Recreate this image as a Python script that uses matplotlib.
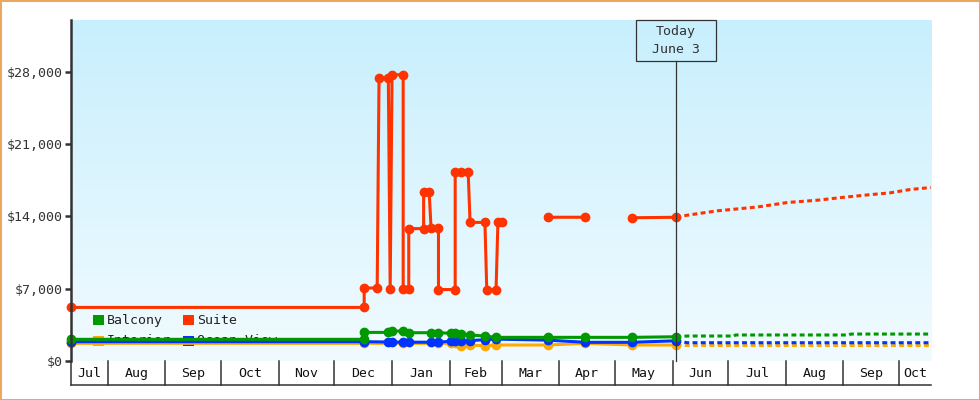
import matplotlib
matplotlib.use("Agg")
import matplotlib.pyplot as plt
import matplotlib.dates as mdates
import matplotlib.transforms as mtransforms
from matplotlib.patches import Rectangle
from matplotlib.ticker import FuncFormatter
import numpy as np
import pandas as pd

# ---------------- data ----------------
x_start = "2022-07-12"
x_end = "2023-10-18"
today = "2023-06-03"
today_label = "Today\nJune 3"
y_ticks = [0, 7000, 14000, 21000, 28000]
y_max = 33000

series_names = ["Balcony", "Suite", "Interior", "Ocean View"]

suite_dates = ["2022-07-12", "2022-12-17", "2022-12-17", "2022-12-24", "2022-12-25",
               "2022-12-30", "2022-12-31", "2023-01-01", "2023-01-07", "2023-01-07",
               "2023-01-10", "2023-01-10", "2023-01-18", "2023-01-18", "2023-01-21",
               "2023-01-22", "2023-01-26", "2023-01-26", "2023-02-04", "2023-02-04",
               "2023-02-07", "2023-02-11", "2023-02-12", "2023-02-20", "2023-02-21",
               "2023-02-26", "2023-02-27", "2023-03-01", "2023-03-10", "2023-03-26",
               "2023-04-15", "2023-04-25", "2023-05-10", "2023-06-03"]
suite_values = [5170, 5170, 7050, 7050, 27350,
                27350, 6950, 27700, 27700, 7000,
                7000, 12800, 12800, 16300, 16300,
                12900, 12900, 6900, 6900, 18250,
                18250, 18250, 13400, 13400, 6900,
                6900, 13400, 13400, None, 13900,
                13900, None, 13850, 13900]

balcony_dates = ["2022-07-12", "2022-12-17", "2022-12-17", "2022-12-30", "2023-01-01",
                 "2023-01-07", "2023-01-10", "2023-01-22", "2023-01-26", "2023-02-02",
                 "2023-02-04", "2023-02-07", "2023-02-12", "2023-02-20", "2023-02-26",
                 "2023-03-26", "2023-04-15", "2023-05-10", "2023-06-03"]
balcony_values = [2080, 2080, 2750, 2750, 2880,
                  2880, 2720, 2720, 2720, 2660,
                  2660, 2590, 2500, 2400, 2270,
                  2270, 2270, 2270, 2330]

ocean_dates = ["2022-07-12", "2022-12-17", "2022-12-30", "2023-01-01", "2023-01-07",
               "2023-01-10", "2023-01-22", "2023-01-26", "2023-02-02", "2023-02-04",
               "2023-02-07", "2023-02-12", "2023-02-20", "2023-02-26", "2023-03-26",
               "2023-04-15", "2023-05-10", "2023-06-03"]
ocean_values = [1850, 1850, 1820, 1820, 1800,
                1800, 1800, 1800, 1900, 1900,
                1900, 1950, 2050, 2100, 2000,
                1790, 1790, 1940]

interior_dates = ["2022-07-12", "2022-12-17", "2023-01-07", "2023-01-26", "2023-02-02",
                  "2023-02-04", "2023-02-07", "2023-02-12", "2023-02-20", "2023-02-26",
                  "2023-03-26", "2023-04-15", "2023-05-10", "2023-06-03"]
interior_values = [1690, 1690, 1690, 1690, 1690,
                   1690, 1460, 1520, 1460, 1530,
                   1530, 1690, 1530, 1530]

suite_fc_dates = ["2023-06-03", "2023-06-09", "2023-06-25", "2023-07-17", "2023-08-02",
                  "2023-08-18", "2023-08-31", "2023-09-12", "2023-09-26", "2023-10-07",
                  "2023-10-18"]
suite_fc_values = [13900, 14100, 14520, 14900, 15330,
                   15550, 15810, 16030, 16260, 16590,
                   16780]

balcony_fc_dates = ["2023-06-03", "2023-06-09", "2023-07-04", "2023-07-05", "2023-09-04",
                    "2023-09-05", "2023-10-18"]
balcony_fc_values = [2330, 2400, 2400, 2500, 2500, 2590, 2590]

ocean_fc_dates = ["2023-06-03", "2023-06-09", "2023-10-18"]
ocean_fc_values = [1940, 1750, 1750]

interior_fc_dates = ["2023-06-03", "2023-06-09", "2023-10-18"]
interior_fc_values = [1530, 1530, 1530]

colors = {"Balcony": "#009900", "Suite": "#ff3300",
          "Interior": "#ffaa00", "Ocean View": "#0033ff"}

# ---------------- figure ----------------
FONT = "DejaVu Sans Mono"
TXT = "#333333"
FS = 9.5
W_PX, H_PX = 980, 400
left_px, right_px, top_px, bottom_px = 70.7, 930.7, 20.0, 360.8

fig = plt.figure(figsize=(W_PX / 100, H_PX / 100), dpi=100)
pos = [left_px / W_PX, 1 - bottom_px / H_PX,
       (right_px - left_px) / W_PX, (bottom_px - top_px) / H_PX]

# gradient background
bg = fig.add_axes(pos, zorder=0)
g = np.linspace(0, 1, 256)[:, None, None]
c_top = np.array([200, 239, 253]) / 255.0
c_bot = np.array([241, 251, 255]) / 255.0
img = c_top * (1 - g) + c_bot * g
bg.imshow(img, aspect="auto", extent=[0, 1, 0, 1], origin="upper", interpolation="bilinear")
bg.set_axis_off()

ax = fig.add_axes(pos, zorder=1)
ax.patch.set_alpha(0)

def to_dt(lst):
    return pd.to_datetime(lst)

def to_vals(lst):
    return np.array([np.nan if v is None else v for v in lst], dtype=float)

solid = {
    "Interior": (interior_dates, interior_values, interior_fc_dates, interior_fc_values, 3),
    "Ocean View": (ocean_dates, ocean_values, ocean_fc_dates, ocean_fc_values, 4),
    "Balcony": (balcony_dates, balcony_values, balcony_fc_dates, balcony_fc_values, 5),
    "Suite": (suite_dates, suite_values, suite_fc_dates, suite_fc_values, 6),
}
for name in ["Interior", "Ocean View", "Balcony", "Suite"]:
    d, v, fd, fv, z = solid[name]
    col = colors[name]
    ax.plot(to_dt(fd), to_vals(fv), color=col, lw=2.2, ls=(0, (1.6, 1.1)),
            zorder=z, clip_on=False)
    ax.plot(to_dt(d), to_vals(v), color=col, lw=2.2, marker="o", ms=6.0,
            mec=col, mfc=col, zorder=z + 0.5, clip_on=False)

xs = mdates.date2num(pd.Timestamp(x_start))
xe = mdates.date2num(pd.Timestamp(x_end))
ax.set_xlim(xs, xe)
ax.set_ylim(0, y_max)

# axes style
for s in ["top", "right", "bottom"]:
    ax.spines[s].set_visible(False)
ax.spines["left"].set_color(TXT)
ax.spines["left"].set_linewidth(1.8)
ax.spines["left"].set_zorder(8)
ax.set_yticks(y_ticks)
ax.yaxis.set_major_formatter(FuncFormatter(lambda v, p: "${:,.0f}".format(v)))
ax.tick_params(axis="y", length=4.5, width=1.8, color=TXT, labelsize=FS,
               labelcolor=TXT, pad=1.5)
for lab in ax.get_yticklabels():
    lab.set_fontfamily(FONT)
ax.set_xticks([])

# month row below axis
trans = mtransforms.blended_transform_factory(ax.transData, ax.transAxes)
row_h = (385.0 - bottom_px) / (bottom_px - top_px)
months = pd.date_range(pd.Timestamp(x_start).to_period("M").to_timestamp(),
                       pd.Timestamp(x_end), freq="MS")
bounds = [xs] + [mdates.date2num(m) for m in months if xs < mdates.date2num(m) < xe] + [xe]
for b in bounds[:-1]:
    ax.plot([b, b], [0, -row_h], transform=trans, color=TXT, lw=1.1, clip_on=False, zorder=9)
ax.plot([xs, xe], [-row_h, -row_h], transform=trans, color=TXT, lw=1.1, clip_on=False, zorder=9)
for a, b in zip(bounds[:-1], bounds[1:]):
    mid = (a + b) / 2
    ax.text(mid, -row_h / 2 - 0.003, mdates.num2date(mid).strftime("%b"), transform=trans,
            ha="center", va="center", fontsize=FS, family=FONT, color="#111111")

# today marker
tx = mdates.date2num(pd.Timestamp(today))
tfrac = (tx - xs) / (xe - xs)
bw = 80.0 / (right_px - left_px)
bh = 40.7 / (bottom_px - top_px)
ax.plot([tx, tx], [0, 1 - bh], transform=trans, color=TXT, lw=0.9, zorder=7, clip_on=False)
ax.add_patch(Rectangle((tfrac - bw / 2, 1 - bh), bw, bh, transform=ax.transAxes,
                       fill=False, ec=TXT, lw=0.9, zorder=7, clip_on=False))
ax.text(tfrac, 1 - bh / 2, today_label, transform=ax.transAxes, ha="center", va="center",
        fontsize=FS, family=FONT, color=TXT, linespacing=1.45, zorder=7)

# legend (drawn under lines)
sq_w = 10.7 / (right_px - left_px)
sq_h = 10.0 / (bottom_px - top_px)
leg_cols = [(93.3 - left_px) / (right_px - left_px), (183.3 - left_px) / (right_px - left_px)]
leg_rows = [(bottom_px - 320.3) / (bottom_px - top_px), (bottom_px - 340.5) / (bottom_px - top_px)]
for i, name in enumerate(series_names):
    cx = leg_cols[i % 2]
    cy = leg_rows[i // 2]
    ax.add_patch(Rectangle((cx, cy - sq_h / 2), sq_w, sq_h, transform=ax.transAxes,
                           color=colors[name], zorder=2, lw=0))
    ax.text(cx + sq_w + 3.0 / (right_px - left_px), cy, name, transform=ax.transAxes,
            ha="left", va="center", fontsize=FS, family=FONT, color="#222222", zorder=2)

# orange border around the figure
fig.add_artist(Rectangle((0, 0), 1, 1, transform=fig.transFigure, fill=False,
                         ec="#e8a862", lw=2.2))

fig.savefig("out.png", dpi=100)
